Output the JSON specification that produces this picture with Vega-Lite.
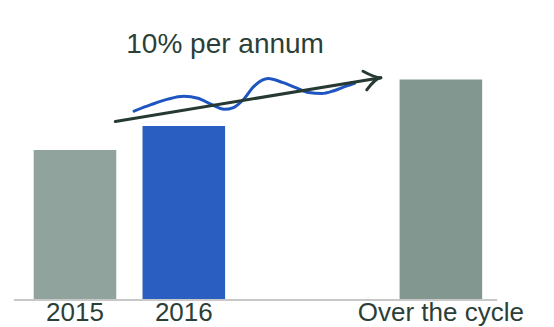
{
  "$schema": "https://vega.github.io/schema/vega-lite/v6.json",
  "width": 516,
  "height": 300,
  "autosize": {"type": "none"},
  "padding": {"left": 14, "top": 0, "right": 24, "bottom": 27},
  "config": {"view": {"stroke": null}, "font": "Liberation Sans"},
  "datasets": {
    "bars": [
      {"label": "2015", "start": 21, "end": 109, "value": 100, "kind": "past"},
      {"label": "2016", "start": 137, "end": 225, "value": 116, "kind": "current"},
      {"label": "Over the cycle", "start": 411, "end": 499, "value": 147, "kind": "cycle"}
    ],
    "lines": [
      {"series": "wave", "i": 1, "px": 128, "v": 125.9},
      {"series": "wave", "i": 2, "px": 146, "v": 130.2},
      {"series": "wave", "i": 3, "px": 164, "v": 133.9},
      {"series": "wave", "i": 4, "px": 181, "v": 135.8},
      {"series": "wave", "i": 5, "px": 196, "v": 134.5},
      {"series": "wave", "i": 6, "px": 211, "v": 130.2},
      {"series": "wave", "i": 7, "px": 224, "v": 127.1},
      {"series": "wave", "i": 8, "px": 234, "v": 128.3},
      {"series": "wave", "i": 9, "px": 244, "v": 133.3},
      {"series": "wave", "i": 10, "px": 256, "v": 142.6},
      {"series": "wave", "i": 11, "px": 271, "v": 147.6},
      {"series": "wave", "i": 12, "px": 286, "v": 145.1},
      {"series": "wave", "i": 13, "px": 301, "v": 141.4},
      {"series": "wave", "i": 14, "px": 314, "v": 138.3},
      {"series": "wave", "i": 15, "px": 328, "v": 137.6},
      {"series": "wave", "i": 16, "px": 341, "v": 139.5},
      {"series": "wave", "i": 17, "px": 354, "v": 142.6},
      {"series": "wave", "i": 18, "px": 363, "v": 144.5},
      {"series": "arrow", "i": 1, "px": 108, "v": 119.0},
      {"series": "arrow", "i": 2, "px": 391, "v": 148.2},
      {"series": "head", "i": 1, "px": 372, "v": 152.5},
      {"series": "head", "i": 2, "px": 391, "v": 148.2},
      {"series": "head", "i": 3, "px": 376, "v": 140.1}
    ],
    "note": [{"text": "10% per annum", "px": 225, "v": 164.9}]
  },
  "layer": [
    {
      "data": {"name": "bars"},
      "mark": {"type": "bar"},
      "encoding": {
        "x": {"field": "start", "type": "quantitative", "scale": {"domain": [0, 516]}, "axis": null},
        "x2": {"field": "end"},
        "y": {"field": "value", "type": "quantitative", "scale": {"domain": [0, 186]}, "axis": null},
        "y2": {"datum": 0},
        "color": {"field": "kind", "type": "nominal", "scale": {"domain": ["past", "current", "cycle"], "range": ["#91a39d", "#2a5fc1", "#82978f"]}, "legend": null}
      }
    },
    {
      "data": {"values": [{"a": 0, "b": 515, "z": 0}]},
      "mark": {"type": "rule", "color": "#c8c8c8", "strokeWidth": 2},
      "encoding": {
        "x": {"field": "a", "type": "quantitative"},
        "x2": {"field": "b"},
        "y": {"field": "z", "type": "quantitative"}
      }
    },
    {
      "data": {"name": "bars"},
      "transform": [{"calculate": "(datum.start + datum.end) / 2", "as": "mid"}],
      "mark": {"type": "text", "baseline": "alphabetic", "align": "center", "dy": 21, "fontSize": 26, "color": "#2b3f38"},
      "encoding": {
        "x": {"field": "mid", "type": "quantitative"},
        "y": {"datum": 0, "type": "quantitative"},
        "text": {"field": "label"}
      }
    },
    {
      "data": {"name": "lines"},
      "mark": {"type": "line", "interpolate": "monotone", "strokeWidth": 3, "strokeCap": "round", "strokeJoin": "round"},
      "encoding": {
        "x": {"field": "px", "type": "quantitative"},
        "y": {"field": "v", "type": "quantitative"},
        "order": {"field": "i"},
        "detail": {"field": "series"},
        "stroke": {"field": "series", "type": "nominal", "scale": {"domain": ["wave", "arrow", "head"], "range": ["#1f55c0", "#263a33", "#263a33"]}, "legend": null}
      }
    },
    {
      "data": {"name": "note"},
      "mark": {"type": "text", "baseline": "alphabetic", "align": "center", "fontSize": 28, "color": "#2b3f38"},
      "encoding": {
        "x": {"field": "px", "type": "quantitative"},
        "y": {"field": "v", "type": "quantitative"},
        "text": {"field": "text"}
      }
    }
  ]
}
